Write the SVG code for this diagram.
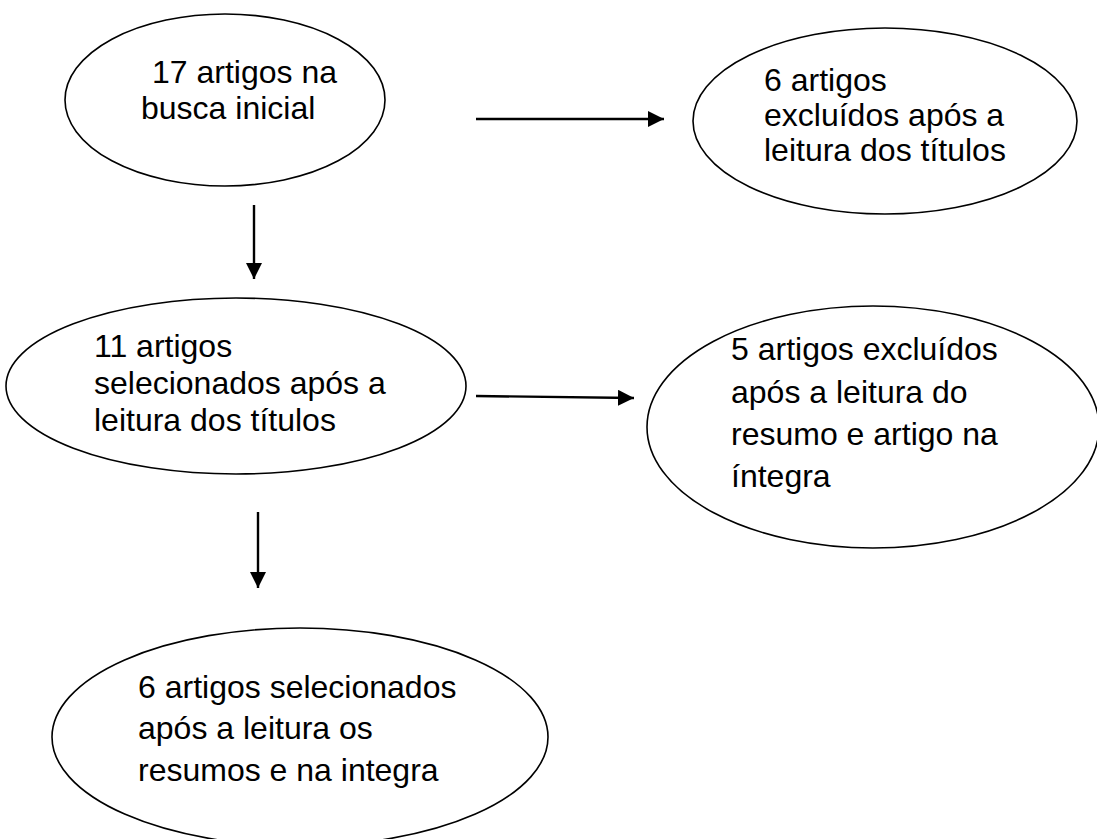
<svg xmlns="http://www.w3.org/2000/svg" width="1097" height="839" viewBox="0 0 1097 839">
<style>
.node ellipse{fill:#fff;stroke:#000;stroke-width:1.6}
.node text{font-family:"Liberation Sans",Arial,sans-serif;font-size:32px;fill:#000}
.conn line{stroke:#000;stroke-width:2.4}
</style>
<defs>
<marker id="ah" markerUnits="userSpaceOnUse" markerWidth="16" markerHeight="16" refX="16" refY="8" orient="auto">
<path d="M0,0 L16,8 L0,16 Z" fill="#000"/>
</marker>
</defs>
<rect width="1097" height="839" fill="#fff"/>
<g id="connectors" class="conn">
<line x1="476" y1="119" x2="664" y2="119" marker-end="url(#ah)"/>
<line x1="254" y1="205" x2="254" y2="279" marker-end="url(#ah)"/>
<line x1="476" y1="396" x2="634" y2="398" marker-end="url(#ah)"/>
<line x1="258" y1="512" x2="258" y2="588" marker-end="url(#ah)"/>
</g>
<g id="n1" class="node">
<ellipse cx="225" cy="100" rx="160" ry="86"/>
<text x="152" y="83">17 artigos na</text>
<text x="141" y="119">busca inicial</text>
</g>
<g id="n2" class="node">
<ellipse cx="885" cy="121" rx="192" ry="93"/>
<text x="764" y="91">6 artigos</text>
<text x="764" y="126">excluídos após a</text>
<text x="764" y="161">leitura dos títulos</text>
</g>
<g id="n3" class="node">
<ellipse cx="236" cy="386" rx="230" ry="88"/>
<text x="94" y="357">11 artigos</text>
<text x="94" y="394">selecionados após a</text>
<text x="94" y="431">leitura dos títulos</text>
</g>
<g id="n4" class="node">
<ellipse cx="873" cy="427" rx="226" ry="121"/>
<text x="731" y="360">5 artigos excluídos</text>
<text x="731" y="403">após a leitura do</text>
<text x="731" y="445">resumo e artigo na</text>
<text x="731" y="487">íntegra</text>
</g>
<g id="n5" class="node">
<ellipse cx="300" cy="737" rx="248" ry="109"/>
<text x="138" y="698">6 artigos selecionados</text>
<text x="138" y="739">após a leitura os</text>
<text x="138" y="781">resumos e na integra</text>
</g>
</svg>
